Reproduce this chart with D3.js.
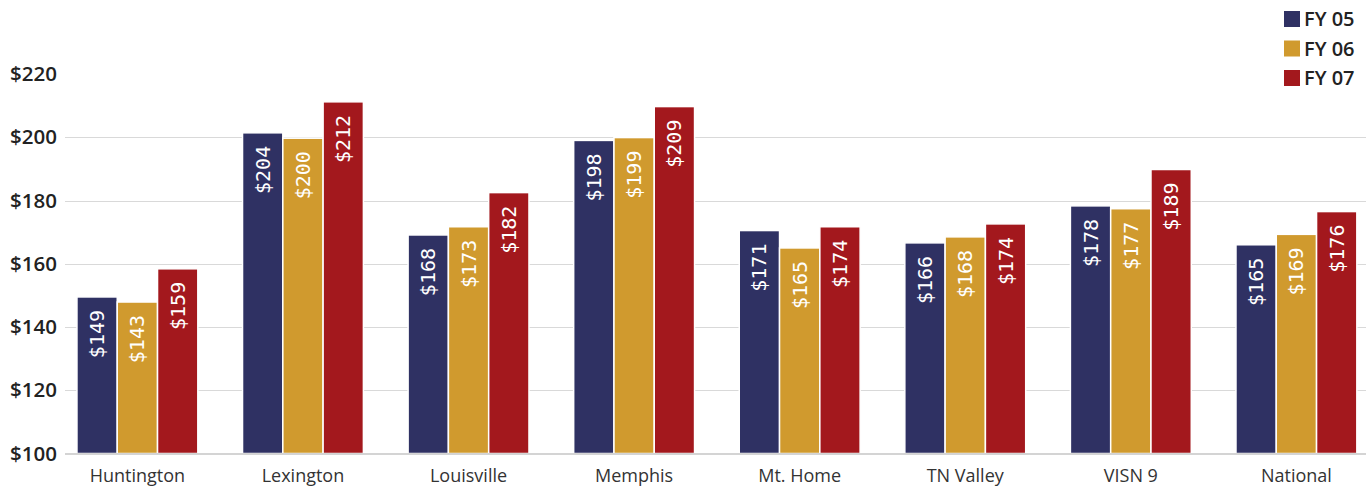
<!DOCTYPE html>
<html>
<head>
<meta charset="utf-8">
<script src="https://cdn.jsdelivr.net/npm/d3@7"></script>
<style>
	body { margin: 0; background: #fff; }
	svg { display: block; }
</style>
</head>
<body>
<div id="chart"></div>
<script>
	// Sites along the x axis
	const categories = ["Huntington", "Lexington", "Louisville", "Memphis", "Mt. Home", "TN Valley", "VISN 9", "National"]
	const seriesNames = ["FY 05", "FY 06", "FY 07"]

	// Bar heights as drawn
	const fy05 = [149.5, 201.4, 169.1, 199.0, 170.5, 166.6, 178.3, 166.0]
	const fy06 = [147.9, 199.7, 171.7, 199.9, 165.0, 168.5, 177.4, 169.3]
	const fy07 = [158.4, 211.2, 182.5, 209.7, 171.7, 172.6, 189.8, 176.5]

	// Printed labels inside the bars
	const fy05Labels = ["$149", "$204", "$168", "$198", "$171", "$166", "$178", "$165"]
	const fy06Labels = ["$143", "$200", "$173", "$199", "$165", "$168", "$177", "$169"]
	const fy07Labels = ["$159", "$212", "$182", "$209", "$174", "$174", "$189", "$176"]

	const yTicks = [100, 120, 140, 160, 180, 200, 220]
	const colours = ["#2f3163", "#d09a2e", "#a3181d"]

	const width = 1370
	const height = 487

	const series = [fy05, fy06, fy07]
	const labels = [fy05Labels, fy06Labels, fy07Labels]

	const x = d3.scaleBand()
		.domain(categories)
		.range([54.6, 1379.2])
		.paddingInner(0.27)
		.paddingOuter(0.135)

	const xSub = d3.scaleBand()
		.domain(seriesNames)
		.range([0, x.bandwidth()])

	const y = d3.scaleLinear()
		.domain([100, 220])
		.range([453.5, 74])

	const svg = d3.select("#chart").append("svg")
		.attr("width", width)
		.attr("height", height)

	// Gridlines
	svg.append("g")
		.attr("class", "grid")
		.selectAll("line")
		.data(yTicks.slice(1, -1))
		.join("line")
		.attr("x1", 65)
		.attr("x2", 1366)
		.attr("y1", d => Math.round(y(d)) + 0.5)
		.attr("y2", d => Math.round(y(d)) + 0.5)
		.attr("stroke", "#d9d9d9")
		.attr("stroke-width", 1.2)

	// Y axis labels
	svg.append("g")
		.attr("class", "yLabels")
		.selectAll("text")
		.data(yTicks)
		.join("text")
		.attr("x", 57)
		.attr("y", d => y(d))
		.attr("dy", "0.35em")
		.attr("text-anchor", "end")
		.attr("font-family", "'Open Sans', sans-serif")
		.attr("font-weight", 600)
		.attr("font-size", 20.5)
		.attr("fill", "#222")
		.text(d => `$${d}`)

	// Bars
	const groups = svg.append("g")
		.attr("class", "bars")
		.selectAll("g")
		.data(categories)
		.join("g")
		.attr("transform", d => `translate(${x(d)}, 0)`)

	const cells = (d, i) => seriesNames.map((s, j) => ({ s, j, value: series[j][i], label: labels[j][i] }))

	groups.selectAll("rect")
		.data(cells)
		.join("rect")
		.attr("x", d => xSub(d.s))
		.attr("y", d => y(d.value))
		.attr("width", xSub.bandwidth())
		.attr("height", d => y(100) - y(d.value))
		.attr("fill", d => colours[d.j])
		.attr("stroke", "#fff")
		.attr("stroke-width", 1.5)

	groups.selectAll("text")
		.data(cells)
		.join("text")
		.attr("transform", d => `translate(${xSub(d.s) + xSub.bandwidth() / 2}, ${y(d.value) + 13}) rotate(-90)`)
		.attr("text-anchor", "end")
		.attr("dy", "0.35em")
		.attr("font-family", "'DejaVu Sans Mono', monospace")
		.attr("font-size", 20)
		.attr("fill", "#fff")
		.text(d => d.label)

	// Baseline
	svg.append("line")
		.attr("x1", 65)
		.attr("x2", 1366)
		.attr("y1", y(100) + 0.5)
		.attr("y2", y(100) + 0.5)
		.attr("stroke", "#d4d4d4")
		.attr("stroke-width", 2)

	// Category labels
	svg.append("g")
		.attr("class", "xLabels")
		.selectAll("text")
		.data(categories)
		.join("text")
		.attr("x", d => x(d) + x.bandwidth() / 2)
		.attr("y", 482)
		.attr("text-anchor", "middle")
		.attr("font-family", "'Open Sans', sans-serif")
		.attr("font-size", 18)
		.attr("fill", "#333")
		.text(d => d)

	// Legend
	const legend = svg.append("g")
		.attr("class", "legend")
		.attr("transform", "translate(1284, 11)")
		.selectAll("g")
		.data(seriesNames)
		.join("g")
		.attr("transform", (d, i) => `translate(0, ${i * 29.5})`)
	legend.append("rect")
		.attr("width", 16)
		.attr("height", 16)
		.attr("fill", (d, i) => colours[i])
	legend.append("text")
		.attr("x", 20)
		.attr("y", 8)
		.attr("dy", "0.35em")
		.attr("font-family", "'Open Sans', sans-serif")
		.attr("font-weight", 600)
		.attr("font-size", 20)
		.attr("fill", "#222")
		.text(d => d)
</script>
</body>
</html>
